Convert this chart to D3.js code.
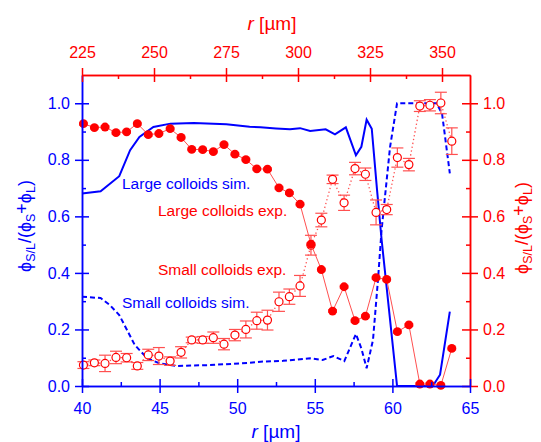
<!DOCTYPE html>
<html><head><meta charset="utf-8">
<script src="https://cdn.jsdelivr.net/npm/d3@7"></script>
<style>
body{margin:0;background:#fff;}
text{font-family:"Liberation Sans",Arial,"DejaVu Sans",sans-serif;}
</style></head>
<body><svg id="c" width="541" height="442"></svg>
<script>
// ---- Data ----
// Simulation (bottom axis r in µm, left axis)
const largeSimX = [40,41.2,42.4,43.1,43.7,44.6,45.7,47.2,49.3,50.8,51.5,52.5,53.4,54.05,54.7,55.7,56.3,57.0,57.65,58.0,58.34,58.67,59.0,59.3,60.3,62.6,63.07,63.7];
const largeSimY = [0.681,0.689,0.742,0.834,0.881,0.916,0.928,0.930,0.926,0.917,0.915,0.911,0.908,0.912,0.902,0.908,0.890,0.915,0.816,0.846,0.942,0.910,0.70,0.52,0.0,0.0,0.04,0.263];
const smallSimX = [40,41.2,41.8,42.4,42.9,43.4,44.2,45.0,46.1,48.25,50.8,51.5,52.95,54.7,55.5,56.2,56.9,57.65,58.0,58.34,58.75,59.07,59.3,59.85,60.3,62.85,63.2,63.7];
const smallSimY = [0.316,0.311,0.286,0.251,0.198,0.145,0.098,0.080,0.071,0.074,0.082,0.086,0.089,0.098,0.092,0.106,0.088,0.184,0.133,0.063,0.163,0.375,0.55,0.846,1.0,1.0,0.963,0.752];
// Experiment (top axis r in µm, right axis)
const expX = [225.5,229.3,233.0,236.8,240.5,244.2,248.0,251.7,255.6,259.4,263.1,266.9,270.6,274.3,278.1,281.9,285.7,289.4,293.4,297.0,300.7,304.5,308.1,312.0,316.0,319.8,323.4,327.1,330.8,334.5,338.5,342.3,345.8,349.6,353.4];
const largeExpY = [0.928,0.914,0.916,0.896,0.899,0.928,0.889,0.893,0.910,0.879,0.837,0.836,0.829,0.854,0.820,0.801,0.768,0.767,0.701,0.683,0.643,0.502,0.412,0.265,0.351,0.231,0.247,0.383,0.377,0.192,0.216,0.007,0.007,0.002,0.133];
const largeExpXErr = 1.3;
const smallExpY = [0.074,0.082,0.080,0.101,0.100,0.071,0.110,0.106,0.088,0.119,0.163,0.163,0.171,0.148,0.180,0.200,0.231,0.233,0.298,0.316,0.354,0.498,0.587,0.731,0.648,0.769,0.749,0.614,0.624,0.808,0.783,0.990,0.993,1.001,0.866];
const smallExpErr = [0.012,0.010,0.029,0.022,0.015,0.012,0.020,0.030,0.015,0.020,0.010,0.012,0.020,0.020,0.020,0.030,0.030,0.035,0.034,0.027,0.037,0.035,0.024,0.015,0.027,0.022,0.022,0.044,0.018,0.034,0.022,0.019,0.020,0.038,0.047];
// Ticks
const bottomTicks = [40,45,50,55,60,65];
const bottomMinor = [42.5,47.5,52.5,57.5,62.5];
const topTicks = [225,250,275,300,325,350];
const topMinor = [237.5,262.5,287.5,312.5,337.5];
const yTicks = [0,0.2,0.4,0.6,0.8,1.0];
const yMinor = [0.1,0.3,0.5,0.7,0.9];
const xDomain = [40,65];
const topDomain = [225,359.72];
const yDomain = [0,1.1];

const BLUE = "#0000ff", RED = "#ff0000", LRED = "#ff5050";
const L = 82, R = 470, T = 75, B = 386;
const svg = d3.select("#c");
const x = d3.scaleLinear().domain(xDomain).range([L,R]);
const xt = d3.scaleLinear().domain(topDomain).range([L,R]);
const y = d3.scaleLinear().domain(yDomain).range([B,T]);
const fmt = d3.format(".1f");

// ---- Simulation lines ----
const simLine = (xs,ys)=>d3.line().x((d,i)=>x(xs[i])).y((d,i)=>y(ys[i]))(xs);
svg.append("path").attr("d", simLine(smallSimX,smallSimY)).attr("fill","none")
  .attr("stroke",BLUE).attr("stroke-width",2).attr("stroke-dasharray","5,3");
svg.append("path").attr("d", simLine(largeSimX,largeSimY)).attr("fill","none")
  .attr("stroke",BLUE).attr("stroke-width",2);

// ---- Experimental ----
const expLine = ys=>d3.line().x((d,i)=>xt(expX[i])).y((d,i)=>y(ys[i]))(expX);
svg.append("path").attr("d", expLine(largeExpY)).attr("fill","none").attr("stroke",LRED).attr("stroke-width",1);
svg.append("path").attr("d", expLine(smallExpY)).attr("fill","none").attr("stroke",LRED).attr("stroke-width",1.3).attr("stroke-dasharray","1.3,2.6");

// small exp error bars
const ge = svg.append("g").attr("stroke",LRED).attr("stroke-width",1.2);
expX.forEach((xv,i)=>{
  const cx = xt(xv), y1 = y(smallExpY[i]-smallExpErr[i]), y2 = y(smallExpY[i]+smallExpErr[i]);
  ge.append("line").attr("x1",cx).attr("x2",cx).attr("y1",y1).attr("y2",y2);
  ge.append("line").attr("x1",cx-6).attr("x2",cx+6).attr("y1",y1).attr("y2",y1);
  ge.append("line").attr("x1",cx-6).attr("x2",cx+6).attr("y1",y2).attr("y2",y2);
});
// large exp x error bars
const gf = svg.append("g").attr("stroke",LRED).attr("stroke-width",1.2);
expX.forEach((xv,i)=>{
  const cy = y(largeExpY[i]), x1 = xt(xv-largeExpXErr), x2 = xt(xv+largeExpXErr);
  gf.append("line").attr("x1",x1).attr("x2",x2).attr("y1",cy).attr("y2",cy);
  gf.append("line").attr("x1",x1).attr("x2",x1).attr("y1",cy-2).attr("y2",cy+2);
  gf.append("line").attr("x1",x2).attr("x2",x2).attr("y1",cy-2).attr("y2",cy+2);
});
svg.append("g").selectAll("circle").data(expX).join("circle")
  .attr("cx",d=>xt(d)).attr("cy",(d,i)=>y(smallExpY[i])).attr("r",4)
  .attr("fill","#fff").attr("stroke",RED).attr("stroke-width",1.2);
svg.append("g").selectAll("circle").data(expX).join("circle")
  .attr("cx",d=>xt(d)).attr("cy",(d,i)=>y(largeExpY[i])).attr("r",4.4)
  .attr("fill",RED);

// ---- Axes ----
function styleAxis(g,color,crossLen,orient){
  g.select(".domain").attr("stroke",color).attr("stroke-width",1.5);
  g.selectAll(".tick line").attr("stroke",color).attr("stroke-width",1.5);
  if(orient==="h") g.selectAll(".tick line").attr("y1",-crossLen).attr("y2",crossLen);
  else g.selectAll(".tick line").attr("x1",-crossLen).attr("x2",crossLen);
  g.selectAll("text").attr("fill",color).attr("font-size",16)
   .attr("font-family",'"Liberation Sans",Arial,sans-serif');
}
// left
const gl = svg.append("g").attr("transform",`translate(${L},0)`)
  .call(d3.axisLeft(y).tickValues(yMinor).tickSizeInner(-4).tickSizeOuter(0).tickFormat(""));
gl.selectAll("path,line").attr("stroke",BLUE).attr("stroke-width",1.5);
const gl2 = svg.append("g").attr("transform",`translate(${L},0)`)
  .call(d3.axisLeft(y).tickValues(yTicks).tickSize(0).tickPadding(12).tickFormat(fmt));
styleAxis(gl2,BLUE,7,"v");
// right
const gr = svg.append("g").attr("transform",`translate(${R},0)`)
  .call(d3.axisRight(y).tickValues(yMinor).tickSizeInner(-4).tickSizeOuter(0).tickFormat(""));
gr.selectAll("path,line").attr("stroke",RED).attr("stroke-width",1.5);
const gr2 = svg.append("g").attr("transform",`translate(${R},0)`)
  .call(d3.axisRight(y).tickValues(yTicks).tickSize(0).tickPadding(13).tickFormat(fmt));
styleAxis(gr2,RED,8,"v");
// top
const gt = svg.append("g").attr("transform",`translate(0,${T})`)
  .call(d3.axisTop(xt).tickValues(topMinor).tickSizeInner(-4).tickSizeOuter(0).tickFormat(""));
gt.selectAll("path,line").attr("stroke",RED).attr("stroke-width",1.5);
const gt2 = svg.append("g").attr("transform",`translate(0,${T})`)
  .call(d3.axisTop(xt).tickValues(topTicks).tickSize(0).tickFormat(d3.format("d")));
styleAxis(gt2,RED,7,"h");
gt2.selectAll("text").attr("y",-17).attr("dy",null);
// bottom
const gb = svg.append("g").attr("transform",`translate(0,${B})`)
  .call(d3.axisBottom(x).tickValues(bottomMinor).tickSizeInner(-4).tickSizeOuter(0).tickFormat(""));
gb.selectAll("path,line").attr("stroke",BLUE).attr("stroke-width",1.5);
const gb2 = svg.append("g").attr("transform",`translate(0,${B})`)
  .call(d3.axisBottom(x).tickValues(bottomTicks).tickSize(0).tickFormat(d3.format("d")));
styleAxis(gb2,BLUE,7,"h");
gb2.selectAll("text").attr("y",28).attr("dy",null);

// ---- Titles ----
function rTitle(xp,yp,color){
  const t = svg.append("text").attr("x",xp).attr("y",yp).attr("text-anchor","middle")
    .attr("fill",color).attr("font-size",19);
  t.append("tspan").attr("font-style","italic").text("r");
  t.append("tspan").text(" [µm]");
}
rTitle(276,438,BLUE);
rTitle(272,30,RED);

function phiTitle(xp,yp,color){
  const t = svg.append("text").attr("transform",`translate(${xp},${yp}) rotate(-90)`)
    .attr("text-anchor","middle").attr("fill",color).attr("font-size",18);
  t.append("tspan").text("ϕ");
  t.append("tspan").attr("font-size",12.5).attr("dy",4).text("S/L");
  t.append("tspan").attr("dy",-4).text("/(ϕ");
  t.append("tspan").attr("font-size",12.5).attr("dy",4).text("S");
  t.append("tspan").attr("dy",-7).text("+");
  t.append("tspan").attr("dy",3).text("ϕ");
  t.append("tspan").attr("font-size",12.5).attr("dy",4).text("L");
  t.append("tspan").attr("dy",-4).text(")");
}
phiTitle(31,226,BLUE);
phiTitle(528,228,RED);

// ---- Labels ----
const labels = [
  {t:"Large colloids sim.", x:122, y:189, c:BLUE},
  {t:"Large colloids exp.", x:158, y:216, c:RED},
  {t:"Small colloids exp.", x:158, y:275, c:RED},
  {t:"Small colloids sim.", x:122, y:308, c:BLUE}
];
svg.append("g").selectAll("text").data(labels).join("text")
  .attr("x",d=>d.x).attr("y",d=>d.y).attr("fill",d=>d.c).attr("font-size",15.5).text(d=>d.t);
</script>
</body></html>
